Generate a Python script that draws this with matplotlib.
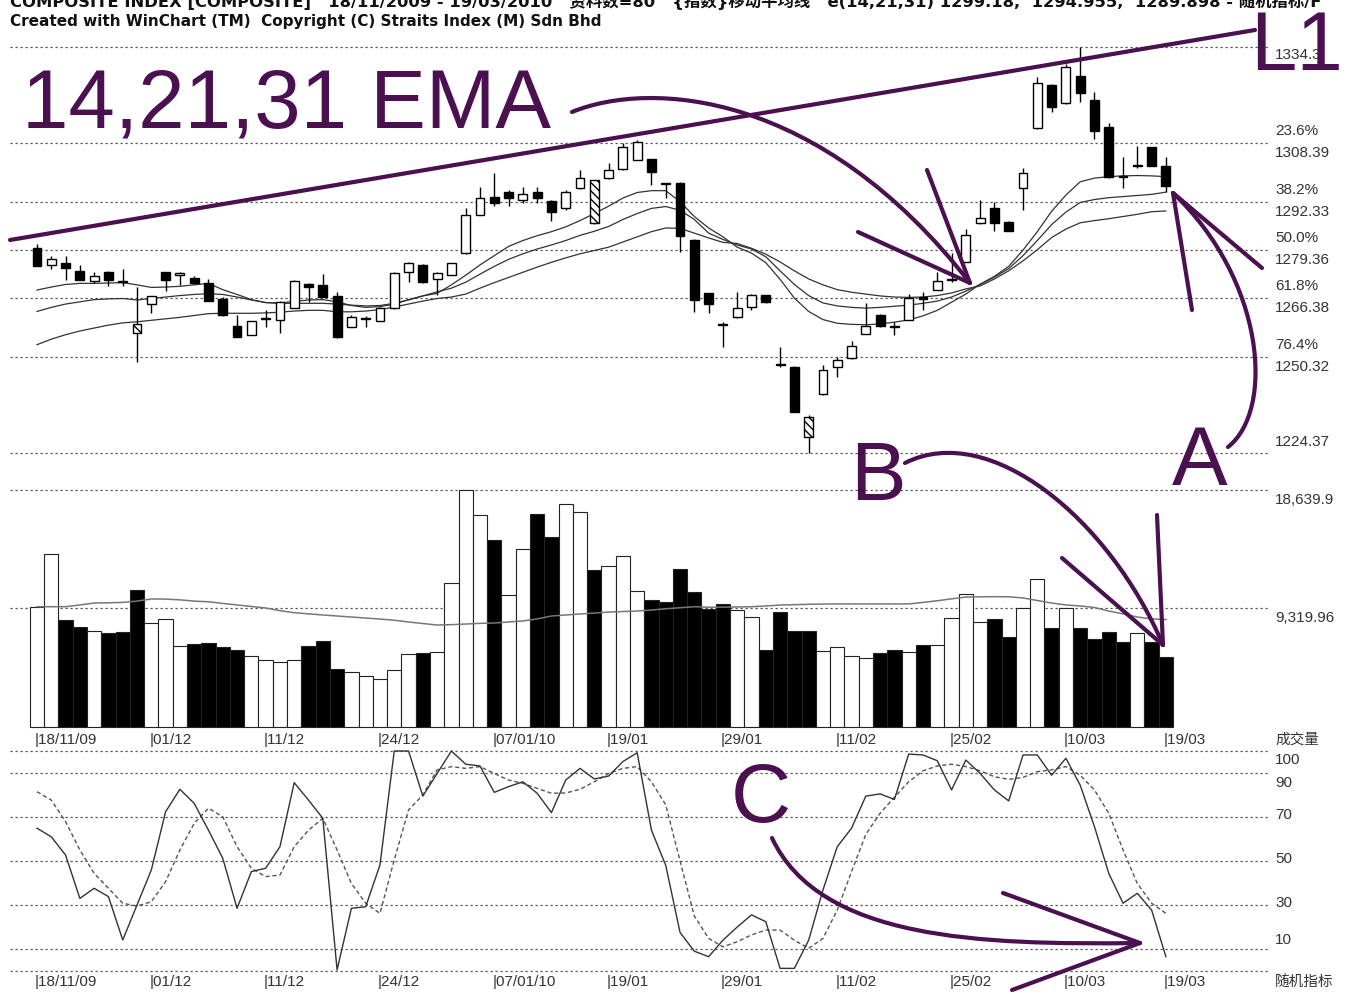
import matplotlib
matplotlib.use("Agg")
import matplotlib.pyplot as plt
from matplotlib.path import Path
from matplotlib.patches import PathPatch

plt.rcParams["font.family"] = ["Liberation Sans", "Noto Sans CJK SC", "DejaVu Sans"]

# ---- candles (80 trading days) ----
opens = [1279.8, 1275.3, 1275.9, 1273.7, 1271.0, 1273.4, 1270.8, 1256.9, 1264.7, 1273.3,
         1272.7, 1271.8, 1270.3, 1266.2, 1258.8, 1256.3, 1260.7, 1260.4, 1263.7, 1270.1,
         1269.9, 1267.0, 1258.6, 1260.6, 1260.2, 1263.5, 1273.5, 1275.3, 1271.5, 1272.6,
         1278.4, 1288.8, 1293.8, 1295.1, 1292.9, 1295.1, 1292.7, 1290.6, 1296.0, 1286.6,
         1298.7, 1301.2, 1303.7, 1303.9, 1297.4, 1297.4, 1282.0, 1267.6, 1259.0, 1261.1,
         1264.0, 1267.1, 1248.3, 1247.7, 1228.8, 1240.3, 1247.6, 1250.0, 1256.6, 1261.7,
         1258.8, 1260.4, 1266.3, 1268.5, 1271.2, 1276.2, 1286.6, 1290.6, 1287.0, 1296.0,
         1312.3, 1324.0, 1319.1, 1326.5, 1320.0, 1312.6, 1299.4, 1302.0, 1307.1, 1302.1]
highs = [1281.0, 1277.7, 1277.7, 1275.3, 1273.4, 1273.6, 1274.1, 1269.3, 1266.9, 1273.4,
         1273.5, 1272.3, 1271.4, 1266.5, 1261.7, 1260.2, 1263.1, 1265.5, 1271.2, 1270.3,
         1272.8, 1268.0, 1261.7, 1261.5, 1263.8, 1273.3, 1276.0, 1275.5, 1273.3, 1275.8,
         1290.6, 1296.5, 1300.1, 1295.5, 1296.5, 1296.3, 1292.9, 1295.6, 1301.0, 1298.4,
         1302.8, 1308.4, 1309.1, 1304.0, 1297.5, 1297.8, 1282.2, 1267.8, 1259.9, 1268.0,
         1267.5, 1267.2, 1253.1, 1247.9, 1234.6, 1248.2, 1250.4, 1254.8, 1265.1, 1261.9,
         1259.9, 1267.4, 1268.0, 1273.5, 1278.4, 1284.9, 1292.9, 1292.4, 1287.1, 1301.5,
         1326.3, 1324.2, 1329.7, 1334.3, 1322.2, 1313.8, 1304.6, 1307.5, 1307.3, 1304.4]
lows = [1275.0, 1274.2, 1271.2, 1271.1, 1270.5, 1269.6, 1269.6, 1249.1, 1262.2, 1268.3,
        1269.9, 1270.0, 1265.6, 1261.5, 1255.8, 1256.3, 1258.6, 1256.8, 1263.5, 1265.3,
        1266.6, 1255.6, 1258.5, 1258.6, 1260.1, 1263.4, 1270.8, 1270.3, 1267.1, 1272.5,
        1278.3, 1288.7, 1291.2, 1291.2, 1292.0, 1292.1, 1287.3, 1290.2, 1295.9, 1286.5,
        1298.6, 1301.1, 1303.6, 1296.9, 1293.3, 1278.9, 1262.6, 1262.2, 1253.1, 1261.0,
        1263.1, 1264.9, 1247.7, 1235.4, 1224.4, 1240.2, 1245.0, 1249.9, 1256.5, 1258.6,
        1256.3, 1260.3, 1263.1, 1268.4, 1270.8, 1276.1, 1286.5, 1284.6, 1284.5, 1290.2,
        1312.2, 1316.8, 1319.0, 1319.5, 1309.3, 1298.9, 1296.0, 1301.5, 1302.0, 1295.1]
closes = [1275.1, 1276.8, 1274.4, 1271.2, 1272.4, 1271.2, 1270.7, 1259.2, 1266.9, 1271.2,
          1272.8, 1270.3, 1265.6, 1261.7, 1255.9, 1260.2, 1260.9, 1265.3, 1271.0, 1269.2,
          1266.7, 1255.7, 1261.1, 1260.9, 1263.7, 1273.2, 1275.9, 1270.8, 1273.2, 1275.7,
          1288.8, 1293.3, 1292.0, 1293.3, 1294.5, 1293.3, 1289.7, 1295.1, 1298.7, 1298.3,
          1301.0, 1307.3, 1308.7, 1300.5, 1297.3, 1283.1, 1265.8, 1264.7, 1258.9, 1263.5,
          1267.1, 1265.3, 1248.2, 1235.5, 1234.0, 1246.8, 1249.5, 1253.3, 1258.8, 1258.7,
          1258.5, 1266.3, 1266.2, 1271.0, 1271.3, 1283.4, 1287.9, 1286.6, 1284.6, 1300.1,
          1324.5, 1318.1, 1328.8, 1321.9, 1311.6, 1299.0, 1299.2, 1302.4, 1302.1, 1296.7]
hatched = [7, 39, 54]

# ---- 14 / 21 / 31 EMA ----
ema14 = [1268.5, 1269.3, 1270.0, 1270.3, 1270.3, 1270.4, 1270.5, 1269.9, 1269.2, 1269.3,
         1269.5, 1269.9, 1270.3, 1268.6, 1267.3, 1265.9, 1265.1, 1265.0, 1265.4, 1265.8,
         1265.9, 1265.3, 1264.3, 1263.8, 1264.0, 1264.7, 1265.9, 1266.9, 1267.6, 1269.9,
         1272.5, 1275.3, 1277.8, 1280.3, 1281.9, 1283.2, 1284.3, 1285.6, 1287.3, 1289.2,
         1291.2, 1293.4, 1294.9, 1295.4, 1295.4, 1292.4, 1288.4, 1285.3, 1282.9, 1280.1,
         1278.5, 1275.9, 1271.4, 1266.3, 1262.7, 1260.5, 1259.5, 1259.2, 1259.1, 1259.3,
         1259.8, 1260.4, 1261.5, 1263.0, 1265.2, 1267.4, 1270.1, 1272.2, 1274.9, 1279.3,
         1284.3, 1289.8, 1294.2, 1297.8, 1298.8, 1299.2, 1299.4, 1299.5, 1299.4, 1299.2]
ema21 = [1262.7, 1263.8, 1264.7, 1265.3, 1265.9, 1266.1, 1266.2, 1265.8, 1266.2, 1266.6,
         1267.0, 1267.3, 1267.5, 1267.3, 1266.6, 1265.8, 1265.1, 1264.9, 1264.9, 1264.9,
         1264.9, 1264.7, 1264.4, 1264.2, 1264.3, 1264.9, 1265.8, 1266.9, 1268.0, 1269.0,
         1270.6, 1272.8, 1274.9, 1276.8, 1278.3, 1279.6, 1280.7, 1281.9, 1283.3, 1284.4,
         1285.7, 1287.6, 1289.2, 1290.6, 1291.1, 1290.1, 1287.6, 1283.9, 1282.2, 1280.7,
         1279.6, 1277.5, 1273.7, 1270.0, 1267.0, 1265.0, 1264.2, 1263.8, 1263.6, 1263.8,
         1264.1, 1264.4, 1264.9, 1265.5, 1266.6, 1268.2, 1270.0, 1272.0, 1274.3, 1277.8,
         1281.9, 1286.2, 1289.6, 1292.2, 1293.0, 1293.5, 1293.8, 1294.1, 1294.4, 1295.0]
ema31 = [1253.7, 1255.2, 1256.4, 1257.4, 1258.2, 1259.0, 1259.6, 1259.9, 1260.3, 1260.7,
         1261.1, 1261.6, 1262.1, 1262.2, 1262.2, 1262.2, 1262.3, 1262.5, 1262.8, 1263.0,
         1263.0, 1262.6, 1262.6, 1262.8, 1263.2, 1263.9, 1264.7, 1265.5, 1266.2, 1266.6,
         1267.4, 1269.0, 1270.5, 1271.9, 1273.3, 1274.7, 1276.0, 1277.2, 1278.3, 1279.2,
         1280.1, 1281.5, 1282.9, 1284.3, 1285.3, 1285.2, 1283.9, 1282.6, 1281.4, 1281.1,
         1279.8, 1278.2, 1276.1, 1273.7, 1271.5, 1269.9, 1268.6, 1267.9, 1267.4, 1266.9,
         1266.6, 1266.5, 1266.6, 1267.0, 1267.7, 1268.8, 1269.6, 1271.5, 1273.7, 1276.4,
         1279.4, 1282.7, 1285.0, 1286.7, 1287.3, 1287.8, 1288.4, 1289.0, 1289.7, 1289.9]

# ---- volume (成交量) ----
volume = [9460, 13610, 8420, 7890, 7550, 7370, 7500, 10780, 8150, 8520,
          6370, 6500, 6580, 6270, 6060, 5580, 5270, 5110, 5270, 6370,
          6760, 4590, 4350, 4040, 3750, 4480, 5740, 5790, 5900, 11300,
          18640, 16670, 14710, 10380, 13970, 16750, 14920, 17540, 16880, 12350,
          12690, 13450, 10720, 9990, 9860, 12430, 10640, 9260, 9670, 9200,
          8680, 6060, 9020, 7580, 7580, 6000, 6320, 5580, 5400, 5850,
          6060, 5930, 6450, 6450, 8600, 10430, 8280, 8490, 7100, 9330,
          11620, 7760, 9330, 7760, 6920, 7500, 6660, 7370, 6660, 5480]
vol_up = [1, 1, 0, 0, 1, 0, 0, 0, 1, 1,
          1, 0, 0, 0, 0, 1, 1, 1, 1, 0,
          0, 0, 1, 1, 1, 1, 1, 0, 1, 1,
          1, 1, 0, 1, 1, 0, 0, 1, 1, 0,
          1, 1, 1, 0, 0, 0, 0, 0, 0, 1,
          1, 0, 0, 0, 0, 1, 1, 1, 1, 0,
          0, 1, 0, 1, 1, 1, 1, 0, 0, 1,
          1, 0, 1, 0, 0, 0, 0, 1, 0, 0]
vol_ma = [9460, 9460, 9460, 9600, 9750, 9770, 9800, 9900, 10070, 10060,
          10000, 9900, 9850, 9720, 9600, 9480, 9360, 9150, 8990, 8900,
          8810, 8730, 8650, 8570, 8490, 8400, 8260, 8140, 8020, 8050,
          8100, 8150, 8180, 8260, 8340, 8500, 8730, 8810, 8890, 8960,
          9040, 9080, 9120, 9200, 9300, 9380, 9460, 9420, 9430, 9440,
          9460, 9520, 9590, 9620, 9650, 9670, 9680, 9680, 9680, 9680,
          9680, 9680, 9800, 9930, 10080, 10220, 10240, 10250, 10240, 10150,
          9950, 9750, 9600, 9520, 9400, 9120, 8900, 8650, 8500, 8450]

# ---- stochastic (随机指标) ----
stoch_k = [64.9, 61.0, 52.7, 33.0, 37.6, 33.8, 14.1, 30.0, 45.9, 72.4,
           82.6, 76.2, 64.0, 51.2, 28.5, 45.2, 46.7, 56.5, 85.6, 77.7,
           69.4, 0.5, 28.5, 29.2, 48.2, 100.0, 100.0, 79.5, 89.8, 100.0,
           94.0, 93.2, 81.2, 83.8, 86.0, 80.8, 72.0, 86.8, 92.1, 87.3,
           88.6, 95.2, 99.2, 64.0, 48.0, 17.5, 9.0, 6.5, 14.0, 20.0,
           25.5, 22.4, 1.2, 1.2, 14.0, 36.8, 56.5, 64.9, 79.5, 80.5,
           78.0, 98.6, 98.2, 95.6, 82.3, 95.9, 89.8, 82.3, 77.3, 98.2,
           98.2, 89.0, 96.7, 84.5, 65.6, 44.4, 30.8, 35.3, 27.7, 6.5]
stoch_d = [81.5, 77.7, 67.9, 55.0, 44.4, 37.6, 30.8, 29.5, 31.5, 40.6,
           55.0, 67.1, 74.0, 70.1, 56.5, 46.7, 42.9, 43.6, 56.5, 64.0,
           69.4, 55.0, 39.8, 30.8, 26.2, 50.5, 73.2, 80.0, 91.4, 92.9,
           92.1, 92.9, 89.8, 86.8, 85.3, 83.0, 80.8, 80.9, 82.6, 86.0,
           89.8, 92.1, 92.9, 86.0, 75.5, 50.0, 25.0, 14.8, 11.0, 13.3,
           16.4, 18.6, 18.6, 14.0, 10.3, 14.8, 27.7, 45.2, 62.1, 71.7,
           79.0, 86.0, 91.0, 93.2, 94.0, 92.9, 91.0, 88.3, 87.1, 88.0,
           90.6, 91.4, 92.9, 89.0, 82.3, 71.7, 55.0, 39.8, 30.8, 26.2]

date_labels = ["18/11/09", "01/12", "11/12", "24/12", "07/01/10", "19/01",
               "29/01", "11/02", "25/02", "10/03", "19/03"]
date_bars = [0, 8, 16, 24, 32, 40, 48, 56, 64, 72, 79]

price_levels = [1334.3, 1308.39, 1292.33, 1279.36, 1266.38, 1250.32, 1224.37]
fib_labels = ["", "23.6%", "38.2%", "50.0%", "61.8%", "76.4%", ""]
vol_levels = [18639.9, 9319.96]
vol_labels = ["18,639.9", "9,319.96"]
stoch_levels = [100, 90, 70, 50, 30, 10, 0]

# ---- layout (pixels) ----
W, H = 1348, 994
PITCH = 14.29
X_LEFT, X_RIGHT = 10, 1270
x0 = -(37 - X_LEFT) / PITCH
x1 = x0 + (X_RIGHT - X_LEFT) / PITCH
PURPLE = "#4a1050"
GRID = "#555555"
TXT = "#333333"
small = dict(family=["Liberation Sans", "DejaVu Sans"], fontsize=11, color=TXT)
cjk = dict(family=["Noto Sans CJK SC", "DejaVu Sans"], fontsize=10.5, color=TXT)

fig = plt.figure(figsize=(W / 100, H / 100), dpi=100)


def panel(top, bottom):
    ax = fig.add_axes([X_LEFT / W, 1 - bottom / H, (X_RIGHT - X_LEFT) / W, (bottom - top) / H])
    ax.set_xlim(x0, x1)
    ax.axis("off")
    return ax


def grid(ax, levels):
    for lv in levels:
        ax.axhline(lv, color=GRID, lw=0.9, ls=(0, (1.8, 2.2)), zorder=0)


def right_label(ax, y, text, dy, style=small):
    ax.annotate(text, xy=(1.004, y), xycoords=("axes fraction", "data"),
                xytext=(0, dy), textcoords="offset pixels", va="center", ha="left", **style)


x = list(range(len(closes)))

# price panel
ax_p = panel(30, 470)
ax_p.set_ylim(1224.37 - 17 * 0.27078, 1334.3 + 17 * 0.27078)
grid(ax_p, price_levels)
for ema in (ema14, ema21, ema31):
    ax_p.plot(x, ema, color="#333333", lw=0.9, zorder=2)
ax_p.vlines(x, lows, highs, color="black", lw=1, zorder=3)
bottoms = [min(o, c) for o, c in zip(opens, closes)]
heights = [max(abs(c - o), 0.3) for o, c in zip(opens, closes)]
faces = ["white" if c >= o else "black" for o, c in zip(opens, closes)]
bodies = ax_p.bar(x, heights, bottom=bottoms, width=0.62, color=faces,
                  edgecolor="black", lw=1, zorder=4)
plt.rcParams["hatch.linewidth"] = 0.8
for i in hatched:
    bodies[i].set_hatch("\\\\\\\\")

right_label(ax_p, price_levels[0], "1334.3", -8)
for lv, pct in zip(price_levels[1:-1], fib_labels[1:-1]):
    right_label(ax_p, lv, pct, 12)
    right_label(ax_p, lv, f"{lv:.2f}", -10)
right_label(ax_p, price_levels[-1], "1224.37", 11)

# volume panel
ax_v = panel(480, 730)
ax_v.set_ylim(-3 * 78.65, 18639.9 + 10 * 78.65)
grid(ax_v, vol_levels)
ax_v.bar(x, volume, width=1.0, color=["white" if u else "black" for u in vol_up],
         edgecolor="#222222", lw=0.8, zorder=2)
ax_v.plot(x, vol_ma, color="#777777", lw=1.1, zorder=3)
for lv, lab in zip(vol_levels, vol_labels):
    right_label(ax_v, lv, lab, -10)
right_label(ax_v, 0, "成交量", -13, cjk)
for b, lab in zip(date_bars, date_labels):
    ax_v.annotate("|" + lab, xy=(b, 0), xytext=(-2, -13), textcoords="offset pixels",
                  va="center", ha="left", **small)

# stochastic panel
ax_s = panel(745, 975)
ax_s.set_ylim(-4 / 2.2, 100 + 6 / 2.2)
grid(ax_s, stoch_levels)
ax_s.plot(x, stoch_k, color="#333333", lw=1, zorder=3)
ax_s.plot(x, stoch_d, color="#555555", lw=1, ls=(0, (3, 2)), zorder=2)
for lv, dy in zip(stoch_levels[:-1], [-9, -10, 2, 2, 2, 9]):
    right_label(ax_s, lv, str(lv), dy)
right_label(ax_s, 0, "随机指标", -11, cjk)
for b, lab in zip(date_bars, date_labels):
    ax_s.annotate("|" + lab, xy=(b, 0), xytext=(-2, -11), textcoords="offset pixels",
                  va="center", ha="left", **small)

# header (first line is cut by the top edge, as in the original export)
head = dict(fontweight="bold", va="baseline", color="#111111",
            family=["DejaVu Sans", "Noto Sans CJK SC"])
fig.text(10 / W, 1 - 7 / H,
         "COMPOSITE INDEX [COMPOSITE]   18/11/2009 - 19/03/2010   资料数=80   {指数}移动平均线   "
         "e(14,21,31) 1299.18,  1294.955,  1289.898 - 随机指标/F",
         fontsize=11.8, **head)
fig.text(10 / W, 1 - 26 / H, "Created with WinChart (TM)  Copyright (C) Straits Index (M) Sdn Bhd",
         fontsize=11, **head)

# hand-drawn annotations, in pixel space
ax_a = fig.add_axes([0, 0, 1, 1], zorder=10)
ax_a.set_xlim(0, W)
ax_a.set_ylim(H, 0)
ax_a.axis("off")


def curve(p0, c1, c2, p3):
    path = Path([p0, c1, c2, p3], [Path.MOVETO, Path.CURVE4, Path.CURVE4, Path.CURVE4])
    ax_a.add_patch(PathPatch(path, fc="none", ec=PURPLE, lw=3, capstyle="round"))


def seg(a, b):
    ax_a.plot([a[0], b[0]], [a[1], b[1]], color=PURPLE, lw=3, solid_capstyle="round")


seg((10, 240), (1255, 30))
curve((572, 112), (650, 80), (820, 90), (970, 283))
seg((927, 170), (970, 283))
seg((858, 232), (970, 283))
curve((1228, 447), (1275, 410), (1265, 280), (1173, 193))
seg((1192, 310), (1173, 193))
seg((1262, 268), (1173, 193))
curve((905, 463), (990, 420), (1110, 520), (1163, 645))
seg((1157, 515), (1163, 645))
seg((1062, 558), (1163, 645))
curve((772, 838), (820, 940), (980, 945), (1140, 943))
seg((1003, 893), (1140, 943))
seg((1012, 990), (1140, 943))

big = dict(color=PURPLE, fontsize=60, va="baseline", ha="left", family="Liberation Sans")
ax_a.text(22, 127, "14,21,31 EMA", **big)
ax_a.text(1250, 70, "L1", **big)
ax_a.text(1172, 485, "A", **big)
ax_a.text(850, 500, "B", **big)
ax_a.text(731, 822, "C", **big)

fig.savefig("out.png", dpi=100)
